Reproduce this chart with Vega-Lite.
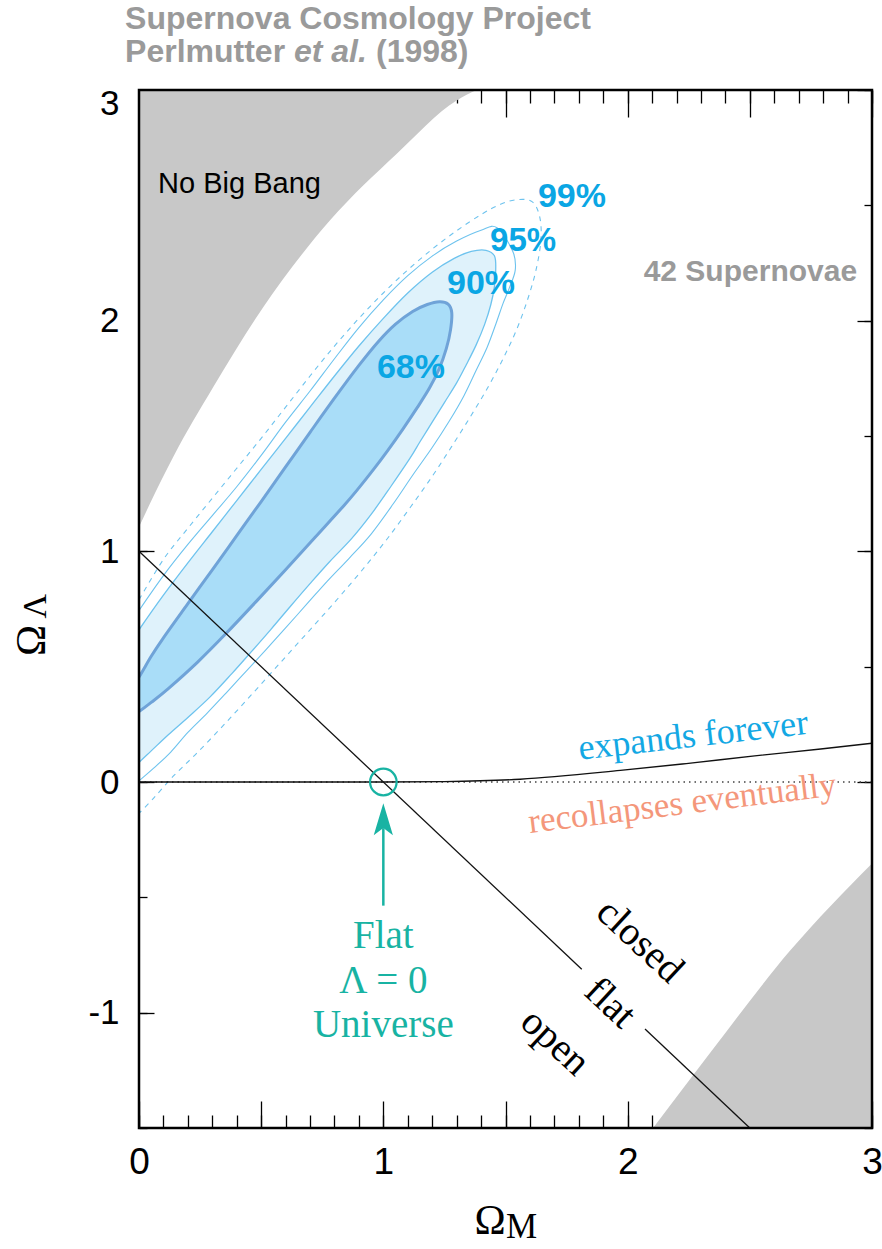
{
  "$schema": "https://vega.github.io/schema/vega-lite/v6.json",
  "width": 733,
  "height": 1038,
  "autosize": {"type": "none"},
  "padding": {"left": 139, "top": 90, "right": 10, "bottom": 121},
  "background": "white",
  "config": {"view": {"stroke": null}, "axis": {"grid": false, "domain": false}},
  "encoding": {
    "x": {"field": "x", "type": "quantitative", "scale": {"domain": [0, 3], "nice": false, "zero": false}, "axis": null},
    "y": {"field": "y", "type": "quantitative", "scale": {"domain": [-1.5, 3], "nice": false, "zero": false}, "axis": null}
  },
  "resolve": {"axis": {"x": "independent", "y": "independent"}},
  "layer": [
    {
      "data": {"values": [
        {"x": 0, "y": 1.105}, {"x": 0.045, "y": 1.207}, {"x": 0.14, "y": 1.409}, {"x": 0.304, "y": 1.712},
        {"x": 0.509, "y": 2.059}, {"x": 0.782, "y": 2.435}, {"x": 1.055, "y": 2.724}, {"x": 1.3, "y": 2.955}, {"x": 1.382, "y": 3.0}
      ]},
      "mark": {"type": "area", "color": "#c8c8c8", "interpolate": "monotone"},
      "encoding": {"y2": {"datum": 3}}
    },
    {
      "data": {"values": [
        {"x": 2.104, "y": -1.5}, {"x": 2.344, "y": -1.165}, {"x": 2.665, "y": -0.731}, {"x": 3.0, "y": -0.353}
      ]},
      "mark": {"type": "area", "color": "#c8c8c8", "interpolate": "monotone"},
      "encoding": {"y2": {"datum": -1.5}}
    },
    {
      "data": {"values": [
        {"x": -0.05, "y": 0.58, "i": 0}, {"x": 0, "y": 0.66, "i": 1}, {"x": 0.1, "y": 0.81, "i": 2}, {"x": 0.2, "y": 0.95, "i": 3},
        {"x": 0.3, "y": 1.085, "i": 4}, {"x": 0.4, "y": 1.22, "i": 5}, {"x": 0.5, "y": 1.355, "i": 6}, {"x": 0.6, "y": 1.49, "i": 7},
        {"x": 0.7, "y": 1.625, "i": 8}, {"x": 0.8, "y": 1.76, "i": 9}, {"x": 0.9, "y": 1.89, "i": 10}, {"x": 1.0, "y": 2.01, "i": 11},
        {"x": 1.1, "y": 2.12, "i": 12}, {"x": 1.2, "y": 2.21, "i": 13}, {"x": 1.29, "y": 2.27, "i": 14}, {"x": 1.36, "y": 2.3, "i": 15},
        {"x": 1.42, "y": 2.305, "i": 16}, {"x": 1.455, "y": 2.28, "i": 17}, {"x": 1.46, "y": 2.22, "i": 18}, {"x": 1.455, "y": 2.15, "i": 19},
        {"x": 1.44, "y": 2.07, "i": 20}, {"x": 1.415, "y": 1.985, "i": 21}, {"x": 1.38, "y": 1.895, "i": 22}, {"x": 1.34, "y": 1.81, "i": 23},
        {"x": 1.3, "y": 1.73, "i": 24}, {"x": 1.25, "y": 1.645, "i": 25}, {"x": 1.2, "y": 1.56, "i": 26}, {"x": 1.15, "y": 1.475, "i": 27},
        {"x": 1.11, "y": 1.405, "i": 28}, {"x": 1.03, "y": 1.28, "i": 29}, {"x": 0.95, "y": 1.16, "i": 30}, {"x": 0.87, "y": 1.055, "i": 31},
        {"x": 0.78, "y": 0.955, "i": 32}, {"x": 0.7, "y": 0.86, "i": 33}, {"x": 0.62, "y": 0.762, "i": 34}, {"x": 0.54, "y": 0.662, "i": 35},
        {"x": 0.46, "y": 0.565, "i": 36}, {"x": 0.38, "y": 0.47, "i": 37}, {"x": 0.29, "y": 0.368, "i": 38}, {"x": 0.2, "y": 0.28, "i": 39},
        {"x": 0.12, "y": 0.205, "i": 40}, {"x": 0.05, "y": 0.135, "i": 41}, {"x": 0, "y": 0.085, "i": 42}, {"x": -0.05, "y": 0.04, "i": 43}
      ]},
      "mark": {"type": "line", "interpolate": "cardinal-closed", "clip": true, "fill": "#dff2fb", "stroke": "#6ec3ee", "strokeWidth": 1.3},
      "encoding": {"order": {"field": "i"}}
    },
    {
      "data": {"values": [
        {"x": -0.06, "y": 0.36, "i": 0}, {"x": 0, "y": 0.455, "i": 1}, {"x": 0.05, "y": 0.545, "i": 2}, {"x": 0.1, "y": 0.625, "i": 3},
        {"x": 0.2, "y": 0.773, "i": 4}, {"x": 0.3, "y": 0.92, "i": 5}, {"x": 0.4, "y": 1.068, "i": 6}, {"x": 0.5, "y": 1.216, "i": 7},
        {"x": 0.6, "y": 1.366, "i": 8}, {"x": 0.7, "y": 1.516, "i": 9}, {"x": 0.8, "y": 1.664, "i": 10}, {"x": 0.9, "y": 1.806, "i": 11},
        {"x": 0.98, "y": 1.91, "i": 12}, {"x": 1.05, "y": 1.985, "i": 13}, {"x": 1.12, "y": 2.04, "i": 14}, {"x": 1.18, "y": 2.07, "i": 15},
        {"x": 1.23, "y": 2.082, "i": 16}, {"x": 1.265, "y": 2.072, "i": 17}, {"x": 1.28, "y": 2.035, "i": 18}, {"x": 1.275, "y": 1.96, "i": 19},
        {"x": 1.258, "y": 1.88, "i": 20}, {"x": 1.228, "y": 1.79, "i": 21}, {"x": 1.19, "y": 1.71, "i": 22}, {"x": 1.14, "y": 1.625, "i": 23},
        {"x": 1.08, "y": 1.53, "i": 24}, {"x": 1.02, "y": 1.44, "i": 25}, {"x": 0.96, "y": 1.355, "i": 26}, {"x": 0.9, "y": 1.275, "i": 27},
        {"x": 0.84, "y": 1.2, "i": 28}, {"x": 0.72, "y": 1.06, "i": 29}, {"x": 0.6, "y": 0.92, "i": 30}, {"x": 0.48, "y": 0.783, "i": 31},
        {"x": 0.36, "y": 0.648, "i": 32}, {"x": 0.24, "y": 0.52, "i": 33}, {"x": 0.12, "y": 0.405, "i": 34}, {"x": 0.05, "y": 0.345, "i": 35},
        {"x": 0, "y": 0.305, "i": 36}, {"x": -0.06, "y": 0.262, "i": 37}
      ]},
      "mark": {"type": "line", "interpolate": "cardinal-closed", "clip": true, "fill": "#a9ddf8", "stroke": "#6fa3d8", "strokeWidth": 3},
      "encoding": {"order": {"field": "i"}}
    },
    {
      "data": {"values": [
        {"x": 0, "y": 0.744, "i": 0}, {"x": 0.1, "y": 0.895, "i": 1}, {"x": 0.2, "y": 1.03, "i": 2}, {"x": 0.3, "y": 1.155, "i": 3},
        {"x": 0.4, "y": 1.28, "i": 4}, {"x": 0.5, "y": 1.416, "i": 5}, {"x": 0.6, "y": 1.56, "i": 6}, {"x": 0.7, "y": 1.695, "i": 7},
        {"x": 0.8, "y": 1.835, "i": 8}, {"x": 0.9, "y": 1.97, "i": 9}, {"x": 1.0, "y": 2.09, "i": 10}, {"x": 1.1, "y": 2.195, "i": 11},
        {"x": 1.2, "y": 2.28, "i": 12}, {"x": 1.3, "y": 2.345, "i": 13}, {"x": 1.4, "y": 2.392, "i": 14}, {"x": 1.465, "y": 2.403, "i": 15},
        {"x": 1.53, "y": 2.3, "i": 16}, {"x": 1.54, "y": 2.22, "i": 17}, {"x": 1.515, "y": 2.14, "i": 18}, {"x": 1.49, "y": 2.075, "i": 19},
        {"x": 1.462, "y": 1.99, "i": 20}, {"x": 1.425, "y": 1.885, "i": 21}, {"x": 1.38, "y": 1.785, "i": 22}, {"x": 1.33, "y": 1.675, "i": 23},
        {"x": 1.27, "y": 1.565, "i": 24}, {"x": 1.2, "y": 1.45, "i": 25}, {"x": 1.12, "y": 1.33, "i": 26}, {"x": 1.04, "y": 1.205, "i": 27},
        {"x": 0.95, "y": 1.075, "i": 28}, {"x": 0.86, "y": 0.97, "i": 29}, {"x": 0.77, "y": 0.87, "i": 30}, {"x": 0.69, "y": 0.775, "i": 31},
        {"x": 0.6, "y": 0.668, "i": 32}, {"x": 0.52, "y": 0.574, "i": 33}, {"x": 0.44, "y": 0.482, "i": 34}, {"x": 0.36, "y": 0.39, "i": 35},
        {"x": 0.28, "y": 0.3, "i": 36}, {"x": 0.2, "y": 0.215, "i": 37}, {"x": 0.13, "y": 0.13, "i": 38}, {"x": 0.06, "y": 0.06, "i": 39},
        {"x": 0, "y": 0.005, "i": 40}
      ]},
      "mark": {"type": "line", "interpolate": "cardinal", "clip": true, "stroke": "#6ec3ee", "strokeWidth": 1.1},
      "encoding": {"order": {"field": "i"}}
    },
    {
      "data": {"values": [
        {"x": 0, "y": 0.79, "i": 0}, {"x": 0.1, "y": 0.965, "i": 1}, {"x": 0.2, "y": 1.1, "i": 2}, {"x": 0.3, "y": 1.23, "i": 3},
        {"x": 0.4, "y": 1.36, "i": 4}, {"x": 0.5, "y": 1.49, "i": 5}, {"x": 0.6, "y": 1.625, "i": 6}, {"x": 0.7, "y": 1.76, "i": 7},
        {"x": 0.8, "y": 1.89, "i": 8}, {"x": 0.9, "y": 2.01, "i": 9}, {"x": 1.0, "y": 2.12, "i": 10}, {"x": 1.1, "y": 2.22, "i": 11},
        {"x": 1.2, "y": 2.31, "i": 12}, {"x": 1.3, "y": 2.39, "i": 13}, {"x": 1.4, "y": 2.46, "i": 14}, {"x": 1.48, "y": 2.505, "i": 15},
        {"x": 1.55, "y": 2.525, "i": 16}, {"x": 1.61, "y": 2.515, "i": 17}, {"x": 1.64, "y": 2.45, "i": 18}, {"x": 1.645, "y": 2.35, "i": 19},
        {"x": 1.625, "y": 2.22, "i": 20}, {"x": 1.59, "y": 2.09, "i": 21}, {"x": 1.545, "y": 1.96, "i": 22}, {"x": 1.49, "y": 1.835, "i": 23},
        {"x": 1.43, "y": 1.715, "i": 24}, {"x": 1.36, "y": 1.59, "i": 25}, {"x": 1.28, "y": 1.455, "i": 26}, {"x": 1.2, "y": 1.325, "i": 27},
        {"x": 1.11, "y": 1.19, "i": 28}, {"x": 1.02, "y": 1.06, "i": 29}, {"x": 0.93, "y": 0.94, "i": 30}, {"x": 0.83, "y": 0.815, "i": 31},
        {"x": 0.73, "y": 0.695, "i": 32}, {"x": 0.63, "y": 0.578, "i": 33}, {"x": 0.53, "y": 0.46, "i": 34}, {"x": 0.43, "y": 0.343, "i": 35},
        {"x": 0.33, "y": 0.228, "i": 36}, {"x": 0.23, "y": 0.118, "i": 37}, {"x": 0.14, "y": 0.025, "i": 38}, {"x": 0.06, "y": -0.07, "i": 39},
        {"x": 0, "y": -0.136, "i": 40}
      ]},
      "mark": {"type": "line", "interpolate": "cardinal", "clip": true, "stroke": "#6ec3ee", "strokeWidth": 1.1, "strokeDash": [5, 5]},
      "encoding": {"order": {"field": "i"}}
    },
    {
      "data": {"values": [
        {"x": 0, "y": 1, "g": "a"}, {"x": 1.812, "y": -0.812, "g": "a"},
        {"x": 2.071, "y": -1.071, "g": "b"}, {"x": 2.5, "y": -1.5, "g": "b"}
      ]},
      "mark": {"type": "line", "color": "#111111", "strokeWidth": 1.3},
      "encoding": {"detail": {"field": "g"}}
    },
    {
      "data": {"values": [
        {"x": 0, "y": 0}, {"x": 3, "y": 0}
      ]},
      "mark": {"type": "line", "color": "#444444", "strokeWidth": 1.5, "strokeDash": [1.5, 4]},
      "encoding": {}
    },
    {
      "data": {"values": [
        {"x": 0, "y": 0}, {"x": 1, "y": 0}, {"x": 1.25, "y": 0.002}, {"x": 1.56, "y": 0.012}, {"x": 1.97, "y": 0.05},
        {"x": 2.24, "y": 0.08}, {"x": 2.52, "y": 0.113}, {"x": 2.79, "y": 0.143}, {"x": 3, "y": 0.168}
      ]},
      "mark": {"type": "line", "color": "#111111", "strokeWidth": 1.3, "interpolate": "monotone"},
      "encoding": {}
    },
    {
      "data": {"values": [
        {"x": 1.113, "y": 1.75, "t": "68%", "s": 34}, {"x": 1.4, "y": 2.114, "t": "90%", "s": 34},
        {"x": 1.572, "y": 2.304, "t": "95%", "s": 33}, {"x": 1.772, "y": 2.491, "t": "99%", "s": 34}
      ]},
      "mark": {"type": "text", "font": "Liberation Sans", "fontWeight": "bold", "color": "#0aa6e4", "align": "center", "baseline": "alphabetic"},
      "encoding": {"text": {"field": "t"}, "size": {"field": "s", "type": "quantitative", "scale": null}}
    },
    {
      "data": {"values": [{"x": 1, "y": 0}]},
      "mark": {"type": "point", "shape": "circle", "size": 707, "filled": false, "stroke": "#18b3a3", "strokeWidth": 2.2, "opacity": 1}
    },
    {
      "data": {"values": [{"x": 1, "y": -0.536, "y2": -0.2}]},
      "mark": {"type": "rule", "color": "#18b3a3", "strokeWidth": 2.5},
      "encoding": {"y2": {"field": "y2"}}
    },
    {
      "data": {"values": [{"x": 1, "y": -0.161}]},
      "mark": {"type": "point", "shape": "M0,-1L0.6,1L0,0.55L-0.6,1Z", "size": 1024, "filled": true, "color": "#18b3a3", "opacity": 1}
    },
    {
      "data": {"values": [
        {"x": 1, "y": -0.721, "t": "Flat"}, {"x": 1, "y": -0.916, "t": "Λ = 0"}, {"x": 1, "y": -1.107, "t": "Universe"}
      ]},
      "mark": {"type": "text", "font": "Liberation Serif", "fontSize": 39, "color": "#18b3a3", "align": "center", "baseline": "alphabetic"},
      "encoding": {"text": {"field": "t"}}
    },
    {
      "data": {"values": [
        {"x": 2.05, "y": -0.69, "t": "closed"}, {"x": 1.928, "y": -0.959, "t": "flat"}, {"x": 1.703, "y": -1.128, "t": "open"}
      ]},
      "mark": {"type": "text", "font": "Liberation Serif", "fontSize": 40, "color": "black", "align": "center", "baseline": "middle", "angle": 43},
      "encoding": {"text": {"field": "t"}}
    },
    {
      "data": {"values": [{"x": 2.268, "y": 0.2, "t": "expands forever"}]},
      "mark": {"type": "text", "font": "Liberation Serif", "fontSize": 36, "color": "#13a8e4", "align": "center", "baseline": "middle", "angle": -6.5},
      "encoding": {"text": {"field": "t"}}
    },
    {
      "data": {"values": [{"x": 2.223, "y": -0.092, "t": "recollapses eventually"}]},
      "mark": {"type": "text", "font": "Liberation Serif", "fontSize": 35, "color": "#f4977b", "align": "center", "baseline": "middle", "angle": -7},
      "encoding": {"text": {"field": "t"}}
    },
    {
      "data": {"values": [{"x": 0.078, "y": 2.552, "t": "No Big Bang"}]},
      "mark": {"type": "text", "font": "Liberation Sans", "fontSize": 29, "color": "black", "align": "left", "baseline": "alphabetic"},
      "encoding": {"text": {"field": "t"}}
    },
    {
      "data": {"values": [{"x": 2.939, "y": 2.17, "t": "42 Supernovae"}]},
      "mark": {"type": "text", "font": "Liberation Sans", "fontSize": 30, "fontWeight": "bold", "color": "#9a9a9a", "align": "right", "baseline": "alphabetic"},
      "encoding": {"text": {"field": "t"}}
    },
    {
      "data": {"values": [
        {"x": -0.057, "y": 3.263, "t": "Supernova Cosmology Project"},
        {"x": -0.057, "y": 3.12, "t": "Perlmutter"},
        {"x": 0.97, "y": 3.12, "t": "(1998)"}
      ]},
      "mark": {"type": "text", "font": "Liberation Sans", "fontSize": 32, "fontWeight": "bold", "color": "#9a9a9a", "align": "left", "baseline": "alphabetic"},
      "encoding": {"text": {"field": "t"}}
    },
    {
      "data": {"values": [{"x": 0.634, "y": 3.12, "t": "et al."}]},
      "mark": {"type": "text", "font": "Liberation Sans", "fontSize": 32, "fontWeight": "bold", "fontStyle": "italic", "color": "#9a9a9a", "align": "left", "baseline": "alphabetic"},
      "encoding": {"text": {"field": "t"}}
    },
    {
      "data": {"values": [{"x": 1.437, "y": -1.961, "t": "Ω"}]},
      "mark": {"type": "text", "font": "Liberation Serif", "fontSize": 42, "color": "black", "align": "center", "baseline": "alphabetic"},
      "encoding": {"text": {"field": "t"}}
    },
    {
      "data": {"values": [{"x": 1.502, "y": -1.978, "t": "M"}]},
      "mark": {"type": "text", "font": "Liberation Serif", "fontSize": 35, "color": "black", "align": "left", "baseline": "alphabetic"},
      "encoding": {"text": {"field": "t"}}
    },
    {
      "data": {"values": [{"x": -0.438, "y": 0.614, "t": "Ω", "s": 42}, {"x": -0.42, "y": 0.762, "t": "Λ", "s": 34}]},
      "mark": {"type": "text", "font": "Liberation Serif", "color": "black", "align": "center", "baseline": "middle", "angle": 270},
      "encoding": {"text": {"field": "t"}, "size": {"field": "s", "type": "quantitative", "scale": null}}
    },
    {
      "data": {"values": [{"x": 0, "y": -1.5, "x2": 3, "y2": 3}]},
      "mark": {"type": "rect", "fill": null, "fillOpacity": 0, "stroke": "black", "strokeWidth": 2.5},
      "encoding": {"x2": {"field": "x2"}, "y2": {"field": "y2"}}
    },
    {
      "data": {"values": [{"x": 0, "y": 0}]},
      "mark": {"type": "point", "opacity": 0},
      "encoding": {
        "x": {"field": "x", "type": "quantitative", "scale": {"domain": [0, 3], "nice": false, "zero": false},
          "axis": {"orient": "bottom", "values": [0,0.1,0.2,0.3,0.4,0.5,0.6,0.7,0.8,0.9,1,1.1,1.2,1.3,1.4,1.5,1.6,1.7,1.8,1.9,2,2.1,2.2,2.3,2.4,2.5,2.6,2.7,2.8,2.9,3], "tickSize": -13, "tickColor": "black", "tickWidth": 1.3, "labels": false, "domain": false, "grid": false, "title": null}},
        "y": {"field": "y", "type": "quantitative", "scale": {"domain": [-1.5, 3], "nice": false, "zero": false},
          "axis": {"orient": "left", "values": [-1.5,-1,-0.5,0,0.5,1,1.5,2,2.5,3], "tickSize": -8, "tickColor": "black", "tickWidth": 1.3, "labels": false, "domain": false, "grid": false, "title": null}}
      }
    },
    {
      "data": {"values": [{"x": 0, "y": 0}]},
      "mark": {"type": "point", "opacity": 0},
      "encoding": {
        "x": {"field": "x", "type": "quantitative", "scale": {"domain": [0, 3], "nice": false, "zero": false},
          "axis": {"orient": "bottom", "values": [0,0.5,1,1.5,2,2.5,3], "tickSize": -27, "tickColor": "black", "tickWidth": 1.3, "labels": false, "domain": false, "grid": false, "title": null}},
        "y": {"field": "y", "type": "quantitative", "scale": {"domain": [-1.5, 3], "nice": false, "zero": false},
          "axis": {"orient": "left", "values": [-1,0,1,2,3], "tickSize": -15, "tickColor": "black", "tickWidth": 1.3, "labels": false, "domain": false, "grid": false, "title": null}}
      }
    },
    {
      "data": {"values": [{"x": 0, "y": 0}]},
      "mark": {"type": "point", "opacity": 0},
      "encoding": {
        "x": {"field": "x", "type": "quantitative", "scale": {"domain": [0, 3], "nice": false, "zero": false},
          "axis": {"orient": "top", "values": [0,0.1,0.2,0.3,0.4,0.5,0.6,0.7,0.8,0.9,1,1.1,1.2,1.3,1.4,1.5,1.6,1.7,1.8,1.9,2,2.1,2.2,2.3,2.4,2.5,2.6,2.7,2.8,2.9,3], "tickSize": -13, "tickColor": "black", "tickWidth": 1.3, "labels": false, "domain": false, "grid": false, "title": null}},
        "y": {"field": "y", "type": "quantitative", "scale": {"domain": [-1.5, 3], "nice": false, "zero": false},
          "axis": {"orient": "right", "values": [-1.5,-1,-0.5,0,0.5,1,1.5,2,2.5,3], "tickSize": -8, "tickColor": "black", "tickWidth": 1.3, "labels": false, "domain": false, "grid": false, "title": null}}
      }
    },
    {
      "data": {"values": [{"x": 0, "y": 0}]},
      "mark": {"type": "point", "opacity": 0},
      "encoding": {
        "x": {"field": "x", "type": "quantitative", "scale": {"domain": [0, 3], "nice": false, "zero": false},
          "axis": {"orient": "top", "values": [0,0.5,1,1.5,2,2.5,3], "tickSize": -27, "tickColor": "black", "tickWidth": 1.3, "labels": false, "domain": false, "grid": false, "title": null}},
        "y": {"field": "y", "type": "quantitative", "scale": {"domain": [-1.5, 3], "nice": false, "zero": false},
          "axis": {"orient": "right", "values": [-1,0,1,2,3], "tickSize": -15, "tickColor": "black", "tickWidth": 1.3, "labels": false, "domain": false, "grid": false, "title": null}}
      }
    },
    {
      "data": {"values": [{"x": 0, "y": 0}]},
      "mark": {"type": "point", "opacity": 0},
      "encoding": {
        "x": {"field": "x", "type": "quantitative", "scale": {"domain": [0, 3], "nice": false, "zero": false},
          "axis": {"orient": "bottom", "values": [0,1,2,3], "ticks": false, "labelPadding": 16, "labelFontSize": 37, "labelFont": "Liberation Sans", "labelColor": "black", "labelFlush": false, "labelOverlap": false, "labelBound": false, "format": "d", "domain": false, "grid": false, "title": null}},
        "y": {"field": "y", "type": "quantitative", "scale": {"domain": [-1.5, 3], "nice": false, "zero": false},
          "axis": {"orient": "left", "values": [-1,0,1,2,3], "ticks": false, "labelPadding": 20, "labelFontSize": 35, "labelFont": "Liberation Sans", "labelColor": "black", "labelFlush": true, "labelFlushOffset": 4, "labelOverlap": false, "labelExpr": "datum.value < 0 ? '-' + format(-datum.value, 'd') : format(datum.value, 'd')", "domain": false, "grid": false, "title": null}}
      }
    }
  ]
}
